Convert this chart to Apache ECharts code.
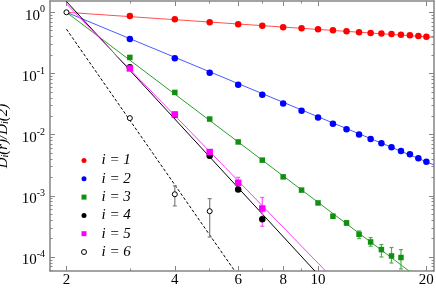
<!DOCTYPE html>
<html>
<head>
<meta charset="utf-8">
<script src="https://cdn.jsdelivr.net/npm/echarts@6/dist/echarts.min.js"></script>
<style>html,body{margin:0;padding:0;background:#fff}#c{width:436px;height:297px}</style>
</head>
<body>
<div id="c"></div>
<script>
// ---- data ----
const names = ['i = 1', 'i = 2', 'i = 3', 'i = 4', 'i = 5', 'i = 6'];
const r1 = [3,4,5,6,7,8,9,10,11,12,13,14,15,16,17,18,19,20];
const d1 = [0.87,0.77,0.69,0.64,0.60,0.57,0.55,0.53,0.51,0.49,0.47,0.46,0.45,0.44,0.43,0.42,0.41,0.40];
const r2 = [3,4,5,6,7,8,9,10,11,12,13,14,15,16,17,18,19,20];
const d2 = [0.366,0.177,0.103,0.0653,0.0448,0.0324,0.0245,0.0191,0.0150,0.0123,0.0101,0.0085,0.0072,0.0062,0.0054,0.0048,0.0041,0.0036];
const r3 = [3,4,5,6,7,8,9,10,11,12,13,14,15,16,17];
const d3 = [0.183,0.049,0.0180,0.0076,0.00383,0.00204,0.00124,7.65e-4,4.63e-4,3.6e-4,2.35e-4,1.76e-4,1.32e-4,1.04e-4,9.8e-5];
const r4 = [3,4,5,6,7];
const d4 = [0.126,0.0209,0.0045,0.00127,4.14e-4];
const r5 = [3,4,5,6,7];
const d5 = [0.121,0.0214,0.0052,0.00163,6.2e-4];
const r6 = [2,3,4,5];
const d6 = [1,0.0186,1.06e-3,5.6e-4];
// error bars: r, low, high
const err3 = [[11,4.3e-4,5.0e-4],[12,3.3e-4,3.95e-4],[13,2.0e-4,2.67e-4],[14,1.50e-4,2.08e-4],[15,1.0e-4,1.6e-4],[16,7.98e-5,1.43e-4],[17,6.37e-5,1.32e-4]];
const err5 = [[6,1.32e-3,2.0e-3],[7,3.18e-4,9.4e-4]];
const err6 = [[4,6.84e-4,1.45e-3],[5,2.12e-4,9.0e-4]];
// fitted power-law lines: endpoints [r, D]
const fit1 = [[2,1.0],[21,0.39]];
const fit2 = [[2,1.0],[21,0.0032]];
const fit3 = [[2,1.0],[17.9,5.9e-5]];
const fit4 = [[2,1.5],[9.8,5.9e-5]];
const fit5 = [[2,1.37],[10.5,5.9e-5]];
const fit6 = [[2,0.53],[5.87,5.9e-5]];
// axes
const xMajor = [2,4,6,8,10,20];
const xMinor = [3,5,7,9];
const yMajor = [1e-4,1e-3,1e-2,1e-1,1];
const yMinor = [];
[1e-5,1e-4,1e-3,1e-2,1e-1,1].forEach(function(b){for(let k=2;k<=9;k++){yMinor.push(+(b*k).toPrecision(3));}});
const xRange = [1.8, 21];
const yRange = [5.9e-5, 1.53];

const colors = ['#ff0000','#0000ff','#109010','#000000','#ff00ff','#000000'];
const lineColors = ['#ff5050','#4a5cff','#2aa02a','#000000','#ff3cff','#000000'];
const errColors = ['#ff5050','#4a5cff','#4fae4f','#000000','#ff50ff','#808080'];
const serif = '"Liberation Serif","Times New Roman",serif';
const frame = '#858585';

function zip(r, d){ return r.map(function(v,i){return [v,d[i]];}); }

function xAxisDef(pos, vals, len, labels, showLine){
  return {
    type:'log', position:pos, min:xRange[0], max:xRange[1], logBase:10,
    axisLine:{show:showLine, onZero:false, lineStyle:{color:frame,width:1.5}},
    axisTick:{show:true, inside:true, length:len, customValues:vals, lineStyle:{color:frame,width:1}},
    axisLabel:{show:labels, customValues:vals, margin:2, color:'#000', fontFamily:serif, fontSize:15,
      formatter:function(v){return String(Math.round(v));}},
    splitLine:{show:false}, minorTick:{show:false}, minorSplitLine:{show:false}
  };
}
function yAxisDef(pos, vals, len, labels, showLine){
  return {
    type:'log', position:pos, min:yRange[0], max:yRange[1], logBase:10,
    axisLine:{show:showLine, onZero:false, lineStyle:{color:frame,width:1.5}},
    axisTick:{show:true, inside:true, length:len, customValues:vals, lineStyle:{color:frame,width:1}},
    axisLabel:{show:labels, customValues:vals, margin:5, color:'#000', fontFamily:serif,
      formatter:function(v){const e=Math.round(Math.log10(v));return '{b|10}{s|'+e+'}';},
      rich:{b:{fontSize:15,fontFamily:serif,color:'#000',padding:[7,0,0,0]},
            s:{fontSize:10,fontFamily:serif,color:'#000',padding:[0,0,5,0]}}},
    splitLine:{show:false}, minorTick:{show:false}, minorSplitLine:{show:false}
  };
}

const xAxes = [
  xAxisDef('bottom', xMajor, 5, true, true),
  xAxisDef('top', xMajor, 5, false, true),
  xAxisDef('bottom', xMinor, 2.5, false, false),
  xAxisDef('top', xMinor, 2.5, false, false)
];
xAxes[0].name = 'r';
xAxes[0].nameLocation = 'middle';
xAxes[0].nameGap = 9;
xAxes[0].nameTextStyle = {fontFamily:serif, fontStyle:'italic', fontSize:16, color:'#000'};

const yAxes = [
  yAxisDef('left', yMajor, 5, true, true),
  yAxisDef('right', yMajor, 5, false, true),
  yAxisDef('left', yMinor, 2.5, false, false),
  yAxisDef('right', yMinor, 2.5, false, false)
];
yAxes[0].name = '{d|D}{s|i}{d|(r)/D}{s|i}{d|(2)}';
yAxes[0].nameLocation = 'middle';
yAxes[0].nameRotate = 90;
yAxes[0].nameGap = 36;
yAxes[0].nameTextStyle = {fontFamily:serif, fontStyle:'italic', fontSize:15, color:'#000',
  rich:{d:{fontFamily:serif,fontStyle:'italic',fontSize:15,color:'#000'},
        s:{fontFamily:serif,fontStyle:'italic',fontSize:10,color:'#000',padding:[6,0,0,0]}}};

const fits = [fit1,fit2,fit3,fit4,fit5,fit6];
const pts = [zip(r1,d1),zip(r2,d2),zip(r3,d3),zip(r4,d4),zip(r5,d5),zip(r6,d6)];
const symbols = ['circle','circle','rect','circle','rect','circle'];
const sizes = [6.5,6.5,5.5,6.5,6.5,5];
const series = [];
fits.forEach(function(f,i){
  series.push({type:'line', data:f, symbol:'none', silent:true, clip:true, z:2,
    lineStyle:{color:lineColors[i], width:1, type: i===5 ? [3,2] : 'solid'}});
});
function errSeries(data, color){
  return {type:'custom', z:3, silent:true, clip:true, data:data,
    renderItem:function(params, api){
      const r=api.value(0), lo=api.value(1), hi=api.value(2);
      const p1=api.coord([r,lo]), p2=api.coord([r,hi]);
      const c=2;
      const st={stroke:color, lineWidth:1.2};
      return {type:'group', children:[
        {type:'line', shape:{x1:p1[0],y1:p1[1],x2:p2[0],y2:p2[1]}, style:st},
        {type:'line', shape:{x1:p1[0]-c,y1:p1[1],x2:p1[0]+c,y2:p1[1]}, style:st},
        {type:'line', shape:{x1:p2[0]-c,y1:p2[1],x2:p2[0]+c,y2:p2[1]}, style:st}
      ]};
    }};
}
series.push(errSeries(err3, errColors[2]));
series.push(errSeries(err5, errColors[4]));
series.push(errSeries(err6, errColors[5]));
pts.forEach(function(p,i){
  series.push({type:'scatter', name:names[i], data:p, symbol:symbols[i], symbolSize:sizes[i], z:5,
    itemStyle: i===5 ? {color:'#ffffff', borderColor:'#000', borderWidth:1, opacity:1}
                     : {color:colors[i], opacity:1}});
});

const legendData = names.map(function(n,i){
  return {name:n, icon:symbols[i],
    itemStyle: i===5 ? {color:'#ffffff', borderColor:'#000', borderWidth:1} : {color:colors[i], borderWidth:0}};
});

const chart = echarts.init(document.getElementById('c'), null, {renderer:'canvas'});
chart.setOption({
  animation:false,
  backgroundColor:'#ffffff',
  grid:{left:50, right:2, top:1, bottom:26, containLabel:false, outerBoundsMode:'none'},
  xAxis:xAxes,
  yAxis:yAxes,
  legend:{orient:'vertical', left:76, top:148, itemWidth:5, itemHeight:5, itemGap:3.3,
    data:legendData,
    textStyle:{fontFamily:serif, fontStyle:'italic', fontSize:15, color:'#000', lineHeight:15, padding:[0,0,0,10]}},
  series:series
});
</script>
</body>
</html>
